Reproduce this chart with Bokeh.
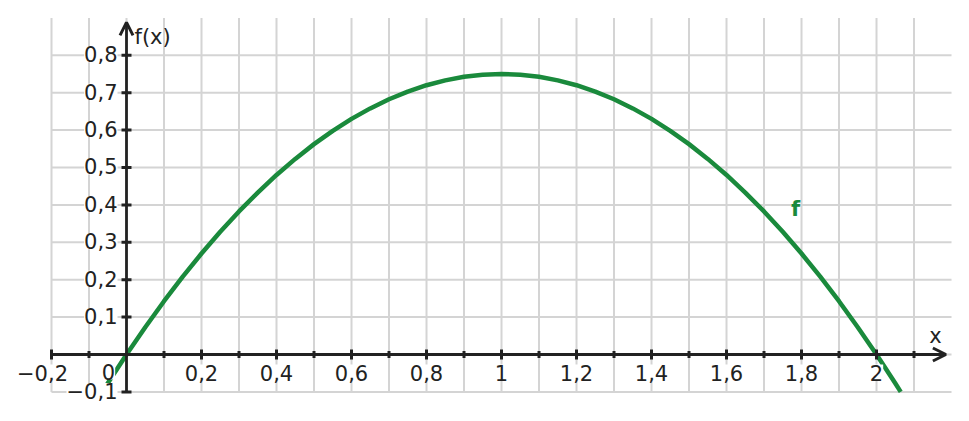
from bokeh.plotting import figure
from bokeh.models import ColumnDataSource, LabelSet, Label, Arrow, OpenHead, Range1d
from bokeh.core.properties import value
from bokeh.embed import file_html
from bokeh.resources import INLINE

# ---- data ----
curve_x = [-0.0646, -0.05, 0.0, 0.05, 0.1, 0.15, 0.2, 0.25, 0.3, 0.35, 0.4, 0.45, 0.5,
           0.55, 0.6, 0.65, 0.7, 0.75, 0.8, 0.85, 0.9, 0.95, 1.0, 1.05, 1.1, 1.15, 1.2,
           1.25, 1.3, 1.35, 1.4, 1.45, 1.5, 1.55, 1.6, 1.65, 1.7, 1.75, 1.8, 1.85, 1.9,
           1.95, 2.0, 2.05, 2.0646]
curve_y = [-0.1, -0.077, 0.0, 0.073, 0.1425, 0.208, 0.27, 0.328, 0.3825, 0.433, 0.48,
           0.523, 0.5625, 0.598, 0.63, 0.658, 0.6825, 0.703, 0.72, 0.733, 0.7425, 0.748,
           0.75, 0.748, 0.7425, 0.733, 0.72, 0.703, 0.6825, 0.658, 0.63, 0.598, 0.5625,
           0.523, 0.48, 0.433, 0.3825, 0.328, 0.27, 0.208, 0.1425, 0.073, 0.0, -0.077, -0.1]

x_grid = [-0.2, -0.1, 0.0, 0.1, 0.2, 0.3, 0.4, 0.5, 0.6, 0.7, 0.8, 0.9, 1.0, 1.1,
          1.2, 1.3, 1.4, 1.5, 1.6, 1.7, 1.8, 1.9, 2.0, 2.1]
y_grid = [-0.1, 0.0, 0.1, 0.2, 0.3, 0.4, 0.5, 0.6, 0.7, 0.8]

x_major_ticks = [-0.2, 0.2, 0.4, 0.6, 0.8, 1.0, 1.2, 1.4, 1.6, 1.8, 2.0]
x_major_labels = ["\u22120,2", "0,2", "0,4", "0,6", "0,8", "1", "1,2", "1,4", "1,6", "1,8", "2"]
x_minor_ticks = [-0.1, 0.1, 0.3, 0.5, 0.7, 0.9, 1.1, 1.3, 1.5, 1.7, 1.9, 2.1]
y_ticks = [-0.1, 0.1, 0.2, 0.3, 0.4, 0.5, 0.6, 0.7, 0.8]
y_labels = ["\u22120,1", "0,1", "0,2", "0,3", "0,4", "0,5", "0,6", "0,7", "0,8"]

X_MIN, X_MAX, X_ARROW = -0.2, 2.2, 2.185
Y_MIN, Y_MAX, Y_ARROW = -0.1, 0.9, 0.888

GREEN = "#1a8a3c"
INK = "#222222"
GRID = "#d4d4d4"
FONT = "DejaVu Sans"
FS = "21px"

p = figure(width=953, height=405, output_backend="svg", toolbar_location=None,
           x_range=Range1d(-0.336, 2.2053), y_range=Range1d(-0.13636, 0.94652),
           min_border=0, outline_line_color=None)
p.axis.visible = False
p.xgrid.visible = False
p.ygrid.visible = False

# grid
p.segment(x0=x_grid, y0=[Y_MIN] * len(x_grid), x1=x_grid, y1=[Y_MAX] * len(x_grid),
          line_color=GRID, line_width=2)
p.segment(x0=[X_MIN] * len(y_grid), y0=y_grid, x1=[X_MAX] * len(y_grid), y1=y_grid,
          line_color=GRID, line_width=2)

# curve
p.line(curve_x, curve_y, line_color=GREEN, line_width=4.5)

# axes
p.add_layout(Arrow(end=OpenHead(size=13, line_width=3, line_color=INK),
                   x_start=X_MIN, y_start=0, x_end=X_ARROW, y_end=0,
                   line_color=INK, line_width=2.8))
p.add_layout(Arrow(end=OpenHead(size=13, line_width=3, line_color=INK),
                   x_start=0, y_start=Y_MIN, x_end=0, y_end=Y_ARROW,
                   line_color=INK, line_width=2.8))

# ticks
p.rect(x=x_major_ticks, y=[0] * len(x_major_ticks), width=3, height=10,
       width_units="screen", height_units="screen", fill_color=INK, line_color=None)
p.rect(x=x_minor_ticks, y=[0] * len(x_minor_ticks), width=3, height=7,
       width_units="screen", height_units="screen", fill_color=INK, line_color=None)
p.rect(x=[0] * len(y_ticks), y=y_ticks, width=10, height=3,
       width_units="screen", height_units="screen", fill_color=INK, line_color=None)

# labels (negative x label: minus sign hangs to the left)
neg = [i for i, t in enumerate(x_major_ticks) if t < 0]
pos = [i for i, t in enumerate(x_major_ticks) if t >= 0]
xsrc = ColumnDataSource(dict(x=[x_major_ticks[i] for i in pos], y=[0] * len(pos),
                             t=[x_major_labels[i] for i in pos]))
p.add_layout(LabelSet(x="x", y="y", text="t", source=xsrc, y_offset=-18,
                      text_align="center", text_baseline="middle",
                      text_font=value(FONT), text_font_size=value(FS), text_color=INK,
                      background_fill_color="white"))
xnsrc = ColumnDataSource(dict(x=[x_major_ticks[i] for i in neg], y=[0] * len(neg),
                              t=[x_major_labels[i] for i in neg]))
p.add_layout(LabelSet(x="x", y="y", text="t", source=xnsrc, y_offset=-18, x_offset=-9,
                      text_align="center", text_baseline="middle",
                      text_font=value(FONT), text_font_size=value(FS), text_color=INK,
                      background_fill_color="white"))
ysrc = ColumnDataSource(dict(x=[0] * len(y_ticks), y=y_ticks, t=y_labels))
p.add_layout(LabelSet(x="x", y="y", text="t", source=ysrc, x_offset=-9, y_offset=1,
                      text_align="right", text_baseline="middle",
                      text_font=value(FONT), text_font_size=value(FS), text_color=INK,
                      background_fill_color="white"))
p.add_layout(Label(x=0, y=0, text="0", x_offset=-18, y_offset=-17,
                   text_align="center", text_baseline="middle",
                   text_font=FONT, text_font_size=FS, text_color=INK,
                   background_fill_color="white"))
p.add_layout(Label(x=0, y=0.85, text="f(x)", x_offset=8,
                   text_align="left", text_baseline="middle",
                   text_font=FONT, text_font_size=FS, text_color=INK))
p.add_layout(Label(x=2.157, y=0.05, text="x",
                   text_align="center", text_baseline="middle",
                   text_font=FONT, text_font_size=FS, text_color=INK))
p.add_layout(Label(x=1.784, y=0.39, text="f",
                   text_align="center", text_baseline="middle",
                   text_font=FONT, text_font_size="21px", text_font_style="bold",
                   text_color=GREEN, background_fill_color="white"))

open("out.html", "w").write(file_html(p, INLINE))
